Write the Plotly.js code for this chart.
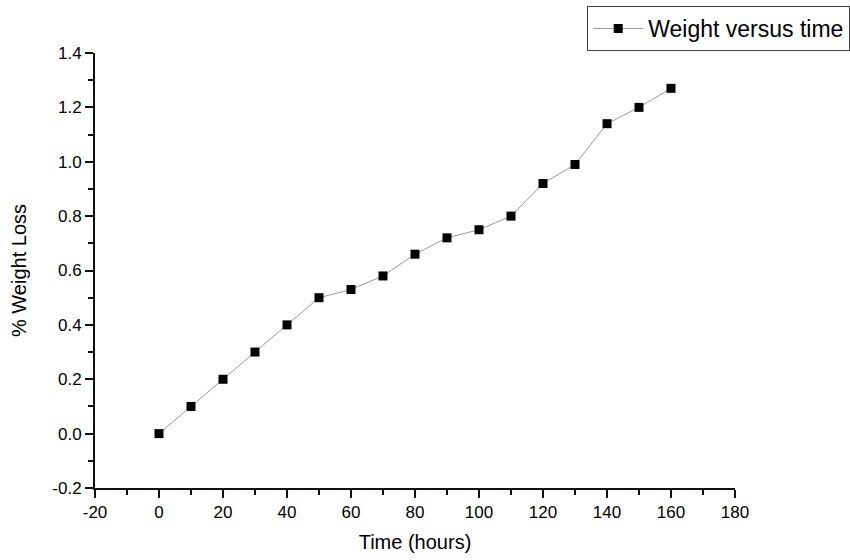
<!DOCTYPE html>
<html>
<head>
<meta charset="utf-8">
<script src="https://cdn.plot.ly/plotly-3.0.1.min.js"></script>
<style>html,body{margin:0;padding:0;background:#fff;}#chart{width:850px;height:560px;}</style>
</head>
<body>
<div id="chart"></div>
<script>
const timeHours = [0, 10, 20, 30, 40, 50, 60, 70, 80, 90, 100, 110, 120, 130, 140, 150, 160];
const weightLoss = [0, 0.1, 0.2, 0.3, 0.4, 0.5, 0.53, 0.58, 0.66, 0.72, 0.75, 0.8, 0.92, 0.99, 1.14, 1.2, 1.27];
const seriesName = 'Weight versus time';
const xTickVals = [-20, 0, 20, 40, 60, 80, 100, 120, 140, 160, 180];
const xTickText = ['-20', '0', '20', '40', '60', '80', '100', '120', '140', '160', '180'];
const yTickVals = [-0.2, 0.0, 0.2, 0.4, 0.6, 0.8, 1.0, 1.2, 1.4];
const yTickText = ['-0.2', '0.0', '0.2', '0.4', '0.6', '0.8', '1.0', '1.2', '1.4'];

const font = 'Liberation Sans, Arial, sans-serif';

const trace = {
  x: timeHours, y: weightLoss, name: seriesName,
  type: 'scatter', mode: 'lines+markers',
  line: {color: '#9a9a9a', width: 1},
  marker: {symbol: 'square', size: 9, color: '#000'}
};

const layout = {
  width: 850, height: 560,
  margin: {l: 95, r: 115, t: 53, b: 72, autoexpand: false},
  paper_bgcolor: '#fff', plot_bgcolor: '#fff',
  font: {family: font, color: '#000'},
  showlegend: true,
  legend: {
    x: 1.18, y: 1.108, xanchor: 'right', yanchor: 'top',
    bordercolor: '#444', borderwidth: 1, bgcolor: '#fff',
    itemwidth: 50,
    font: {size: 23, family: font}
  },
  xaxis: {
    range: [-20, 180], tickmode: 'array', tickvals: xTickVals, ticktext: xTickText,
    showgrid: false, zeroline: false, showline: true, linecolor: '#111', linewidth: 2,
    ticks: 'outside', ticklen: 8, tickwidth: 2, tickcolor: '#111',
    minor: {dtick: 10, tick0: 0, ticks: 'outside', ticklen: 5, tickwidth: 2, tickcolor: '#111', showgrid: false},
    tickfont: {size: 17, family: font},
    title: {text: 'Time (hours)', font: {size: 20, family: font}, standoff: 14}
  },
  yaxis: {
    range: [-0.2, 1.4], tickmode: 'array', tickvals: yTickVals, ticktext: yTickText,
    showgrid: false, zeroline: false, showline: true, linecolor: '#111', linewidth: 2,
    ticks: 'outside', ticklen: 8, tickwidth: 2, tickcolor: '#111',
    minor: {dtick: 0.1, tick0: 0, ticks: 'outside', ticklen: 5, tickwidth: 2, tickcolor: '#111', showgrid: false},
    tickfont: {size: 17, family: font},
    title: {text: '% Weight Loss', font: {size: 20, family: font}, standoff: 20}
  }
};

Plotly.newPlot('chart', [trace], layout, {displayModeBar: false, staticPlot: true});
</script>
</body>
</html>
